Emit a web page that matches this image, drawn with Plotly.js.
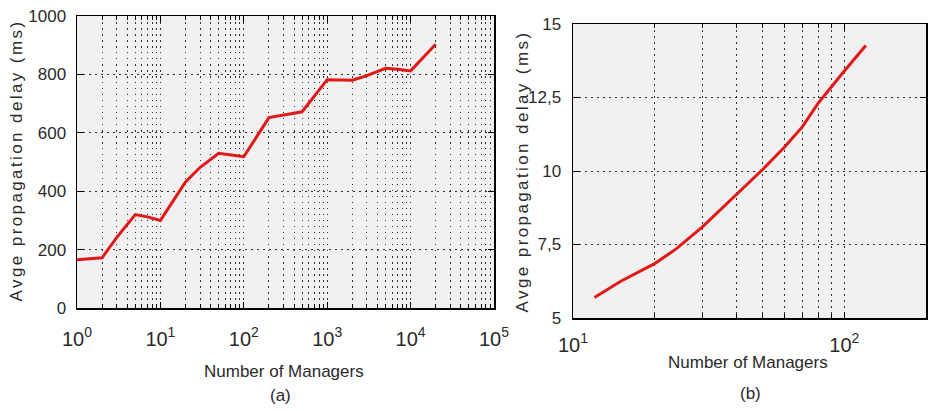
<!DOCTYPE html>
<html>
<head>
<meta charset="utf-8">
<script src="https://cdn.plot.ly/plotly-3.0.1.min.js"></script>
<style>
html,body{margin:0;padding:0;background:#fff;}
#chart{width:931px;height:411px;}
.annotation-text.ytitle-ann{letter-spacing:2.4px;}
</style>
</head>
<body>
<div id="chart"></div>
<script>
// Panel (a)
const aManagers = [1, 2, 3, 5, 7, 10, 20, 30, 50, 70, 100, 200, 300, 500, 1000, 2000, 3000, 5000, 7000, 10000, 20000];
const aDelay    = [165, 172, 242, 320, 312, 300, 432, 482, 530, 524, 518, 652, 662, 672, 782, 780, 796, 821, 818, 812, 903];
const aXTickVals = [1, 10, 100, 1000, 10000, 100000];
const aXTickText = ['10<sup>0</sup>', '10<sup>1</sup>', '10<sup>2</sup>', '10<sup>3</sup>', '10<sup>4</sup>', '10<sup>5</sup>'];
const aYTickVals = [0, 200, 400, 600, 800, 1000];
const aYTickText = ['0', '200', '400', '600', '800', '1000'];

// Panel (b)
const bManagers = [12, 15, 20, 24, 30, 40, 50, 60, 70, 80, 90, 100, 120];
const bDelay    = [5.7, 6.25, 6.85, 7.35, 8.1, 9.2, 10.05, 10.8, 11.5, 12.3, 12.9, 13.4, 14.27];
const bXTickVals = [10, 100];
const bXTickText = ['10<sup>1</sup>', '10<sup>2</sup>'];
const bYTickVals = [5, 7.5, 10, 12.5, 15];
const bYTickText = ['5', '7,5', '10', '12,5', '15'];

const xTitle = 'Number of Managers';
const yTitle = 'Avge propagation delay (ms)';
const panelLabels = ['(a)', '(b)'];

const W = 931, H = 411;
const FONT = 'Liberation Sans, Arial, sans-serif';
const TXT = '#2a2a2a';
const LINE = '#e01818';
const GRID = 'rgba(0,0,0,0.8)';
const DASH = '1.5px,4.5px';

function minorVals(lo, hi) {
  const out = [];
  for (let d = lo; d < hi; d *= 10) {
    for (let k = 2; k <= 9; k++) out.push(d * k);
  }
  return out;
}

const traces = [
  {x: aManagers, y: aDelay, type: 'scatter', mode: 'lines', line: {color: LINE, width: 3}, xaxis: 'x', yaxis: 'y', hoverinfo: 'skip'},
  {x: bManagers, y: bDelay, type: 'scatter', mode: 'lines', line: {color: LINE, width: 3}, xaxis: 'x2', yaxis: 'y2', hoverinfo: 'skip'}
];

const axBase = {
  showline: true, linecolor: '#000', linewidth: 1.5, mirror: 'ticks',
  ticks: 'inside', ticklen: 6, tickcolor: '#000', tickwidth: 1,
  showgrid: true, gridcolor: GRID, gridwidth: 1, griddash: DASH,
  zeroline: false, tickmode: 'array'
};
const xTickFont = {family: FONT, size: 20, color: TXT};
const yTickFont = {family: FONT, size: 17, color: TXT};
const titleFont = {family: FONT, size: 17, color: TXT};

function ann(text, px, py, angle) {
  return {text: text, xref: 'paper', yref: 'paper', x: px / W, y: 1 - py / H, showarrow: false,
          font: titleFont, xanchor: 'center', yanchor: 'middle', textangle: angle || 0};
}

const layout = {
  width: W, height: H,
  margin: {l: 0, r: 0, t: 0, b: 0},
  paper_bgcolor: '#fff',
  plot_bgcolor: '#f0f0f0',
  showlegend: false,
  xaxis: Object.assign({}, axBase, {
    type: 'log', domain: [77 / W, 494 / W], range: [0, 5], anchor: 'y',
    tickvals: aXTickVals, ticktext: aXTickText, ticklabelstandoff: 12, tickfont: xTickFont,
    minor: {tickvals: minorVals(1, 100000), ticks: 'inside', ticklen: 4, tickcolor: '#000',
            showgrid: true, gridcolor: GRID, gridwidth: 1, griddash: DASH}
  }),
  yaxis: Object.assign({}, axBase, {
    domain: [1 - 308 / H, 1 - 16 / H], range: [0, 1000], anchor: 'x',
    tickvals: aYTickVals, ticktext: aYTickText, ticklabelstandoff: 6, tickfont: yTickFont
  }),
  xaxis2: Object.assign({}, axBase, {
    type: 'log', domain: [573 / W, 926 / W], range: [1, Math.log10(200)], anchor: 'y2',
    tickvals: bXTickVals, ticktext: bXTickText, ticklabelstandoff: 8, tickfont: xTickFont,
    minor: {tickvals: minorVals(10, 100), ticks: 'inside', ticklen: 4, tickcolor: '#000',
            showgrid: true, gridcolor: GRID, gridwidth: 1, griddash: DASH}
  }),
  yaxis2: Object.assign({}, axBase, {
    domain: [1 - 318 / H, 1 - 24 / H], range: [5, 15], anchor: 'x2',
    tickvals: bYTickVals, ticktext: bYTickText, ticklabelstandoff: 7, tickfont: yTickFont
  }),
  annotations: [
    ann(xTitle, 284, 371),
    ann(xTitle, 748, 362),
    ann(yTitle, 16, 161, -90),
    ann(yTitle, 523, 172, -90),
    ann(panelLabels[0], 280, 395),
    ann(panelLabels[1], 750, 393)
  ]
};

Plotly.newPlot('chart', traces, layout, {staticPlot: true, displayModeBar: false}).then(function () {
  document.querySelectorAll('.annotation-text').forEach(function (t) {
    if (t.textContent === yTitle) t.style.letterSpacing = '2.4px';
  });
});
</script>
</body>
</html>
